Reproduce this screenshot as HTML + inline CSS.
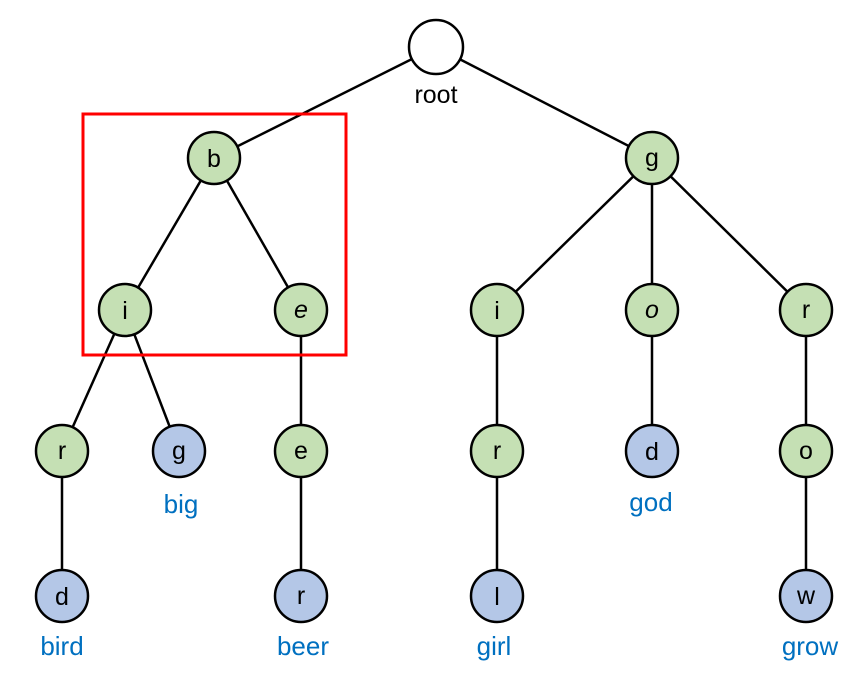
<!DOCTYPE html>
<html><head><meta charset="utf-8"><style>
html,body{margin:0;padding:0;background:#fff;}
svg text{font-family:"Liberation Sans",sans-serif;}
</style></head><body>
<svg width="859" height="673" viewBox="0 0 859 673" xmlns="http://www.w3.org/2000/svg">
<g stroke="#000" stroke-width="2.5">
<line x1="436" y1="47" x2="214" y2="158"/>
<line x1="436" y1="47" x2="652" y2="158"/>
<line x1="214" y1="158" x2="125" y2="310"/>
<line x1="214" y1="158" x2="301" y2="310"/>
<line x1="652" y1="158" x2="497" y2="310"/>
<line x1="652" y1="158" x2="652" y2="310"/>
<line x1="652" y1="158" x2="806" y2="310"/>
<line x1="125" y1="310" x2="62" y2="451"/>
<line x1="125" y1="310" x2="179" y2="451"/>
<line x1="301" y1="310" x2="301" y2="451"/>
<line x1="497" y1="310" x2="497" y2="451"/>
<line x1="652" y1="310" x2="652" y2="451"/>
<line x1="806" y1="310" x2="806" y2="451"/>
<line x1="62" y1="451" x2="62" y2="596"/>
<line x1="301" y1="451" x2="301" y2="596"/>
<line x1="497" y1="451" x2="497" y2="596"/>
<line x1="806" y1="451" x2="806" y2="596"/>
</g>
<rect x="83" y="114" width="263" height="241" fill="none" stroke="#ff0000" stroke-width="3"/>
<g stroke="#000" stroke-width="2.5">
<circle cx="436" cy="47" r="27" fill="#fff"/>
<circle cx="214" cy="158" r="26" fill="#c5e0b4"/>
<circle cx="652" cy="158" r="26" fill="#c5e0b4"/>
<circle cx="125" cy="310" r="26" fill="#c5e0b4"/>
<circle cx="301" cy="310" r="26" fill="#c5e0b4"/>
<circle cx="497" cy="310" r="26" fill="#c5e0b4"/>
<circle cx="652" cy="310" r="26" fill="#c5e0b4"/>
<circle cx="806" cy="310" r="26" fill="#c5e0b4"/>
<circle cx="62" cy="451" r="26" fill="#c5e0b4"/>
<circle cx="179" cy="451" r="26" fill="#b4c7e7"/>
<circle cx="301" cy="451" r="26" fill="#c5e0b4"/>
<circle cx="497" cy="451" r="26" fill="#c5e0b4"/>
<circle cx="652" cy="451" r="26" fill="#b4c7e7"/>
<circle cx="806" cy="451" r="26" fill="#c5e0b4"/>
<circle cx="62" cy="596" r="26" fill="#b4c7e7"/>
<circle cx="301" cy="596" r="26" fill="#b4c7e7"/>
<circle cx="497" cy="596" r="26" fill="#b4c7e7"/>
<circle cx="806" cy="596" r="26" fill="#b4c7e7"/>
</g>
<g font-size="25" text-anchor="middle" fill="#000">
<text x="214" y="167">b</text>
<text x="652" y="166">g</text>
<text x="125" y="319">i</text>
<text x="301" y="318" font-style="italic">e</text>
<text x="497" y="319">i</text>
<text x="652" y="318" font-style="italic">o</text>
<text x="806" y="318">r</text>
<text x="62" y="459">r</text>
<text x="179" y="459">g</text>
<text x="301" y="459">e</text>
<text x="497" y="459">r</text>
<text x="652" y="460">d</text>
<text x="806" y="459">o</text>
<text x="62" y="605">d</text>
<text x="301" y="604">r</text>
<text x="497" y="605">l</text>
<text x="806" y="604">w</text>
<text x="436" y="103">root</text>
</g>
<g font-size="26" text-anchor="middle" fill="#0070c0">
<text x="181" y="513">big</text>
<text x="651" y="511">god</text>
<text x="62" y="655">bird</text>
<text x="303" y="655">beer</text>
<text x="494" y="655">girl</text>
<text x="810" y="655">grow</text>
</g>
</svg>
</body></html>
